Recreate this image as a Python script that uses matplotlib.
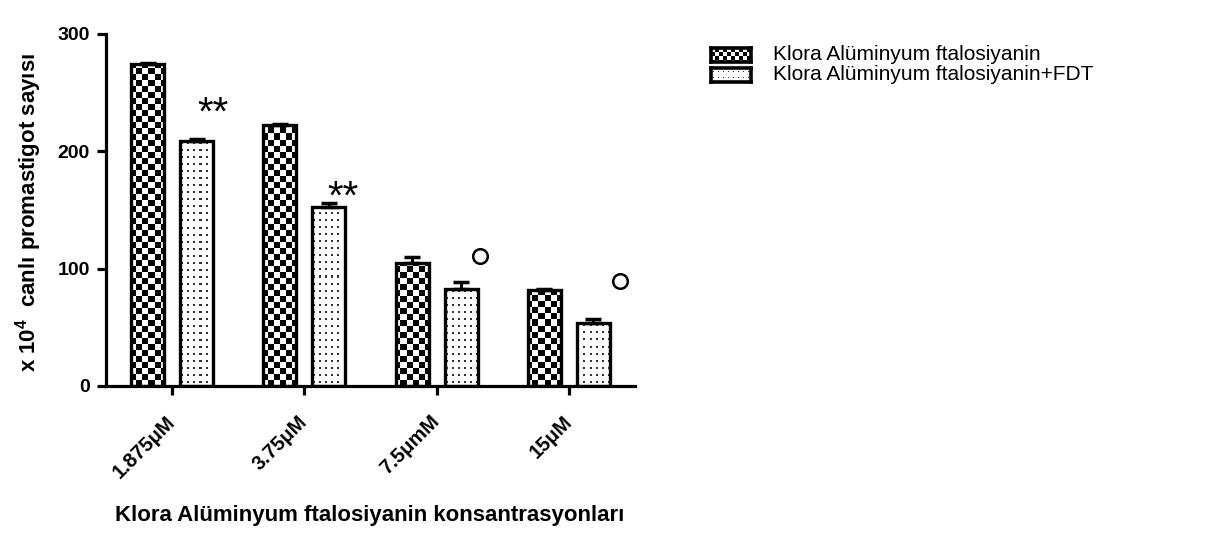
import numpy as np
import matplotlib
matplotlib.use("Agg")
import matplotlib.pyplot as plt

plt.rcParams['font.family'] = ['Liberation Sans', 'DejaVu Sans']
plt.rcParams['mathtext.fontset'] = 'custom'
plt.rcParams['mathtext.rm'] = 'Liberation Sans'
plt.rcParams['mathtext.bf'] = 'Liberation Sans:bold'
plt.rcParams['mathtext.default'] = 'bf'

# ---- data ----
concentrations = ["1.875μM", "3.75μM", "7.5μmM", "15μM"]
series_names = ["Klora Alüminyum ftalosiyanin", "Klora Alüminyum ftalosiyanin+FDT"]
alpc_mean = [274.0, 222.0, 104.5, 82.0]
alpc_err = [1.0, 1.0, 5.6, 1.0]
alpc_fdt_mean = [209.0, 152.7, 82.6, 53.9]
alpc_fdt_err = [1.0, 3.4, 5.7, 2.9]
# significance marks: (text, x position in category units, y value)
sig_marks = [("**", 0.31, 232.0), ("**", 1.29, 160.0)]
circle_marks_x = [2.33, 3.39]
circle_marks_y = [110.7, 89.7]

yticks = [0, 100, 200, 300]
xlabel = "Klora Alüminyum ftalosiyanin konsantrasyonları"
ylabel = "x 10$^{4}$  canlı promastigot sayısı"

# ---- figure ----
W, H = 1226, 534
fig = plt.figure(figsize=(W / 100, H / 100), dpi=100)
ax_rect = [106 / W, 1 - 386 / H, 529 / W, 352.3 / H]
ax = fig.add_axes(ax_rect)

XLIM = (-0.5, 3.5)
YLIM = (0, 300)
ax_px_w = int(round(ax_rect[2] * W))
ax_px_h = int(round(ax_rect[3] * H))


def checker(h, w, cell):
    yy, xx = np.mgrid[0:h, 0:w]
    return ((xx // cell + yy // cell) % 2).astype(float)


def dots(h, w, sx, sy, size=2):
    img = np.zeros((h, w))
    for dy in range(size):
        for dx in range(size):
            img[sy // 2 + dy::sy, sx // 2 + dx::sx] = 0.8
    return img


checker_img = checker(ax_px_h, ax_px_w, 6)
dots_img = dots(ax_px_h, ax_px_w, 6, 7)

x = np.arange(len(concentrations))
bar_w = 0.25
offset = 0.185

for vals, errs, pattern, sign in [(alpc_mean, alpc_err, checker_img, -1),
                                  (alpc_fdt_mean, alpc_fdt_err, dots_img, 1)]:
    pos = x + sign * offset
    bars = ax.bar(pos, vals, bar_w, facecolor='none', edgecolor='black',
                  linewidth=2.4, zorder=3)
    for b in bars:
        im = ax.imshow(pattern, extent=(XLIM[0], XLIM[1], YLIM[0], YLIM[1]),
                       origin='lower', cmap='gray_r', vmin=0, vmax=1,
                       interpolation='nearest', aspect='auto', zorder=2)
        im.set_clip_path(b)
    ax.errorbar(pos, vals, yerr=[np.zeros(len(vals)), errs], fmt='none',
                ecolor='black', elinewidth=2.2, capsize=6, capthick=2.5,
                zorder=4)

for txt, sx, sy in sig_marks:
    ax.text(sx, sy, txt, ha='center', va='center', fontsize=29, zorder=5)

ax.plot(circle_marks_x, circle_marks_y, linestyle='none', marker='o',
        markersize=10.5, markerfacecolor='white', markeredgecolor='black',
        markeredgewidth=1.8, clip_on=False, zorder=5)

ax.set_xlim(*XLIM)
ax.set_ylim(*YLIM)
ax.set_xticks(x)
ax.set_xticklabels(concentrations, rotation=45, ha='right', va='center',
                   rotation_mode='anchor', fontweight='bold', fontsize=14.5)
ax.set_yticks(yticks)
ax.set_yticklabels([str(v) for v in yticks], fontweight='bold', fontsize=14)
ax.tick_params(axis='x', length=6.5, width=2.3, pad=17)
ax.tick_params(axis='y', length=6.5, width=2.3, pad=5)
for side in ['top', 'right']:
    ax.spines[side].set_visible(False)
for side in ['left', 'bottom']:
    ax.spines[side].set_linewidth(2.3)

fig.text(29 / W, 1 - 212 / H, ylabel, rotation=90, ha='center', va='center',
         fontsize=16, fontweight='bold')
fig.text(370 / W, 1 - 516 / H, xlabel, ha='center', va='center',
         fontsize=16, fontweight='bold')

# ---- legend ----
swatch_patterns = [checker(14, 40, 4), dots(14, 40, 5, 6, size=1)]
swatch_tops = [48.3, 68.3]
for name, pat, top in zip(series_names, swatch_patterns, swatch_tops):
    sax = fig.add_axes([710.7 / W, 1 - (top + 13.4) / H, 40 / W, 13.4 / H])
    sax.imshow(pat, cmap='gray_r', vmin=0, vmax=1, interpolation='nearest',
               aspect='auto')
    sax.set_xticks([])
    sax.set_yticks([])
    for sp in sax.spines.values():
        sp.set_linewidth(2.6)
    fig.text(772.7 / W, 1 - (top + 6.7) / H, name, ha='left', va='center',
             fontsize=15)

fig.savefig("out.png", dpi=100)
